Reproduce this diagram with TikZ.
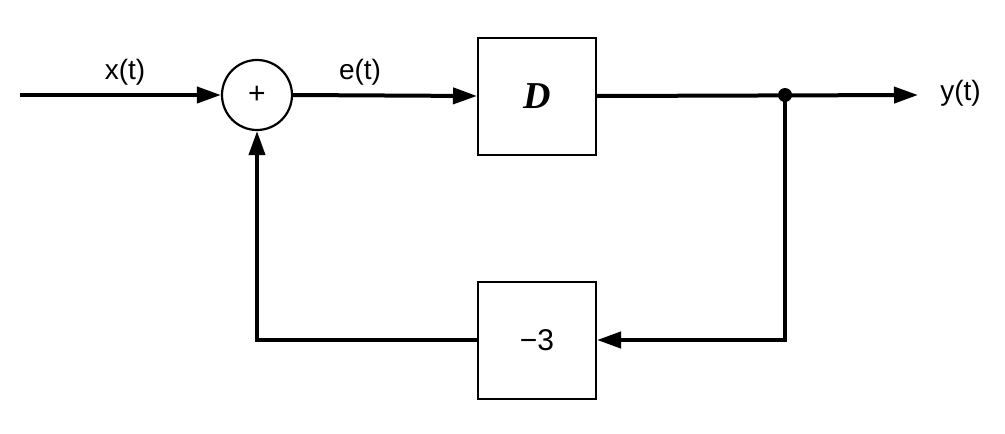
\documentclass[tikz,border=0pt]{standalone}
\usepackage{fontspec}
\setmainfont{Liberation Sans}
\newfontfamily\serifit{Liberation Serif}
\usetikzlibrary{arrows.meta}
\begin{document}
\begin{tikzpicture}[x=1pt,y=-1pt,line width=4pt,
  arr/.style={-{Triangle[length=24pt,width=16pt]}},
  blk/.style={draw,line width=2pt,minimum width=118pt,minimum height=117pt,inner sep=0pt},
  lbl/.style={font=\fontsize{28}{30}\selectfont}]
\useasboundingbox (0,0) rectangle (1005,434);
\coordinate (in) at (20,95);
\node[draw,circle,line width=2.2pt,minimum size=70pt,inner sep=0pt,font=\fontsize{30}{32}\selectfont] (sum) at (257,95) {+};
\node[blk] (D) at (537,96) {\serifit\bfseries\itshape\fontsize{38}{40}\selectfont D};
\node[blk] (G) at (537,340) {\fontsize{30}{32}\selectfont −3};
\coordinate (out) at (918,95);
\coordinate (br) at (785,95);
\node[lbl] (xl) at (125,72) {x(t)};
\node[lbl] (el) at (360,72) {e(t)};
\node[lbl,anchor=west] (yl) at (935,93) {y(t)};
\draw[arr] (in) -- (sum.west);
\draw[arr] (sum.east) -- (D.west);
\draw[arr] (D.east) -- (out);
\fill (br) circle (7pt);
\draw[arr] (br) |- (G.east);
\draw[arr] (G.west) -| (sum.south);
\end{tikzpicture}
\end{document}
